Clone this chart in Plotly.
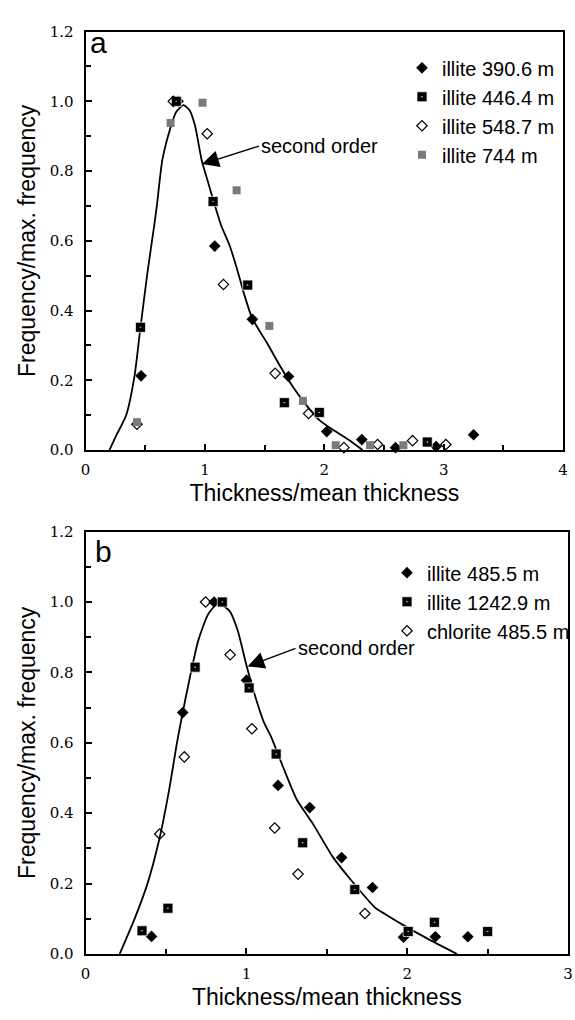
import plotly.graph_objects as go

# ---------------- Panel a data ----------------
curve_a_x = [0.20, 0.26, 0.34, 0.41, 0.457, 0.52, 0.575, 0.597, 0.643, 0.712, 0.76, 0.82, 0.87, 0.917,
             0.972, 1.02, 1.068, 1.136, 1.205, 1.274, 1.328, 1.397, 1.52, 1.629, 1.739, 1.849, 1.958,
             2.095, 2.20, 2.32]
curve_a_y = [0.0, 0.044, 0.10, 0.213, 0.344, 0.513, 0.644, 0.70, 0.832, 0.925, 0.97, 0.989, 0.975, 0.93,
             0.832, 0.775, 0.719, 0.644, 0.588, 0.513, 0.447, 0.377, 0.307, 0.241, 0.18, 0.129, 0.086,
             0.053, 0.03, 0.0]

a390_x = [0.465, 0.775, 1.082, 1.397, 1.70, 2.02, 2.314, 2.596, 2.936, 3.25]
a390_y = [0.213, 1.0, 0.585, 0.375, 0.211, 0.053, 0.030, 0.007, 0.010, 0.044]

a446_x = [0.46, 0.76, 1.068, 1.358, 1.665, 1.958, 2.862]
a446_y = [0.352, 1.0, 0.713, 0.473, 0.136, 0.108, 0.023]

a548_x = [0.43, 0.735, 1.019, 1.155, 1.588, 1.868, 2.164, 2.446, 2.739, 3.018]
a548_y = [0.074, 1.0, 0.907, 0.475, 0.22, 0.105, 0.007, 0.016, 0.027, 0.016]

a744_x = [0.43, 0.712, 0.98, 1.265, 1.539, 1.821, 2.095, 2.383, 2.662]
a744_y = [0.08, 0.938, 0.996, 0.745, 0.356, 0.141, 0.014, 0.014, 0.014]

# ---------------- Panel b data ----------------
curve_b_x = [0.212, 0.304, 0.385, 0.457, 0.518, 0.569, 0.604, 0.65, 0.701, 0.763, 0.824, 0.895, 0.946,
             0.997, 1.048, 1.109, 1.15, 1.231, 1.313, 1.415, 1.537, 1.649, 1.802, 1.864, 1.965, 2.149, 2.31]
curve_b_y = [0.0, 0.099, 0.2, 0.323, 0.462, 0.602, 0.686, 0.789, 0.891, 0.966, 0.996, 0.975, 0.919,
             0.826, 0.742, 0.658, 0.621, 0.528, 0.439, 0.369, 0.276, 0.211, 0.131, 0.113, 0.085, 0.038, 0.0]

b485_x = [0.41, 0.604, 0.799, 1.001, 1.197, 1.394, 1.592, 1.784, 1.977, 2.175, 2.377]
b485_y = [0.05, 0.686, 1.0, 0.778, 0.479, 0.416, 0.274, 0.189, 0.048, 0.049, 0.049]

b1242_x = [0.351, 0.512, 0.681, 0.85, 1.017, 1.185, 1.35, 1.674, 2.006, 2.169, 2.5]
b1242_y = [0.066, 0.13, 0.815, 1.0, 0.756, 0.568, 0.316, 0.183, 0.064, 0.09, 0.064]

bchl_x = [0.461, 0.614, 0.746, 0.899, 1.034, 1.176, 1.321, 1.737]
bchl_y = [0.341, 0.56, 1.0, 0.85, 0.64, 0.358, 0.227, 0.115]

names_a = ["illite 390.6 m", "illite 446.4 m", "illite 548.7 m", "illite 744 m"]
names_b = ["illite 485.5 m", "illite 1242.9 m", "chlorite 485.5 m"]

W, H = 575, 1020
SANS = "Liberation Sans, Arial, Helvetica, sans-serif"
SERIF = "DejaVu Serif, serif"

filled_diamond = dict(symbol="diamond", size=9, color="black", line=dict(width=0))
dot_square = dict(symbol="square-dot", size=10, color="black", line=dict(color="white", width=0.7))
open_diamond = dict(symbol="diamond-open", size=8, color="black", line=dict(width=1.2, color="black"))
gray_square = dict(symbol="square", size=8, color="#7a7a7a", line=dict(width=0))

fig = go.Figure()

fig.add_trace(go.Scatter(x=curve_a_x, y=curve_a_y, mode="lines", line=dict(color="black", width=1.8, shape="spline", smoothing=0.6),
                         showlegend=False, xaxis="x", yaxis="y", hoverinfo="skip"))
for xs, ys, nm, mk in [(a390_x, a390_y, names_a[0], filled_diamond), (a446_x, a446_y, names_a[1], dot_square),
                       (a548_x, a548_y, names_a[2], open_diamond), (a744_x, a744_y, names_a[3], gray_square)]:
    fig.add_trace(go.Scatter(x=xs, y=ys, mode="markers", name=nm, marker=mk, cliponaxis=False,
                             xaxis="x", yaxis="y", legend="legend"))

fig.add_trace(go.Scatter(x=curve_b_x, y=curve_b_y, mode="lines", line=dict(color="black", width=1.8, shape="spline", smoothing=0.6),
                         showlegend=False, xaxis="x2", yaxis="y2", hoverinfo="skip"))
for xs, ys, nm, mk in [(b485_x, b485_y, names_b[0], filled_diamond), (b1242_x, b1242_y, names_b[1], dot_square),
                       (bchl_x, bchl_y, names_b[2], open_diamond)]:
    fig.add_trace(go.Scatter(x=xs, y=ys, mode="markers", name=nm, marker=mk, cliponaxis=False,
                             xaxis="x2", yaxis="y2", legend="legend2"))

def xax(domain, rng, anchor):
    return dict(domain=domain, range=rng, anchor=anchor, showgrid=False, zeroline=False,
                showline=True, linecolor="black", linewidth=2, mirror=True,
                ticks="inside", ticklen=6, tickwidth=1.5, tickcolor="black", dtick=1, tick0=0,
                minor=dict(dtick=0.5, ticks="inside", ticklen=5, tickwidth=1.5, tickcolor="black"),
                tickfont=dict(family=SERIF, size=15, color="black"), ticklabelstandoff=5,
                title=dict(text="Thickness/mean thickness", font=dict(family=SANS, size=23, color="black"), standoff=7))

def yax(domain, anchor):
    return dict(domain=domain, range=[0, 1.2], anchor=anchor, showgrid=False, zeroline=False,
                showline=True, linecolor="black", linewidth=2, mirror=True,
                ticks="inside", ticklen=6, tickwidth=1.5, tickcolor="black", dtick=0.2, tick0=0,
                tickformat=".1f",
                minor=dict(dtick=0.1, ticks="inside", ticklen=5, tickwidth=1.5, tickcolor="black"),
                tickfont=dict(family=SERIF, size=15, color="black"), ticklabelstandoff=7,
                title=dict(text="Frequency/max. frequency", font=dict(family=SANS, size=23, color="black"), standoff=8))

ya = [1 - 449 / H, 1 - 23 / H]
yb = [1 - 962 / H, 1 - 532 / H]

fig.update_layout(
    width=W, height=H, margin=dict(l=0, r=0, t=0, b=0),
    paper_bgcolor="white", plot_bgcolor="white",
    xaxis=xax([82 / W, 568 / W], [0, 4], "y"),
    yaxis=yax(ya, "x"),
    xaxis2=xax([82 / W, 573 / W], [0, 3], "y2"),
    yaxis2=yax(yb, "x2"),
    legend=dict(x=404 / W, y=1 - 40 / H, xanchor="left", yanchor="top", bgcolor="rgba(0,0,0,0)",
                font=dict(family=SANS, size=20, color="black"), tracegroupgap=0),
    legend2=dict(x=389 / W, y=1 - 554 / H, xanchor="left", yanchor="top", bgcolor="rgba(0,0,0,0)",
                 font=dict(family=SANS, size=20, color="black"), tracegroupgap=0),
    annotations=[
        dict(text="a", xref="paper", yref="paper", x=84 / W, y=1 - 34 / H, xanchor="left", yanchor="middle",
             showarrow=False, font=dict(family=SANS, size=30, color="black")),
        dict(text="b", xref="paper", yref="paper", x=90 / W, y=1 - 552 / H, xanchor="left", yanchor="middle",
             showarrow=False, font=dict(family=SANS, size=30, color="black")),
        dict(text="second order", xref="x", yref="y", x=0.975, y=0.82, ax=57, ay=-18, xanchor="left",
             showarrow=True, arrowhead=2, arrowsize=2.6, arrowwidth=1.3, arrowcolor="black",
             font=dict(family=SANS, size=20, color="black")),
        dict(text="second order", xref="x2", yref="y2", x=1.007, y=0.817, ax=48, ay=-18, xanchor="left",
             showarrow=True, arrowhead=2, arrowsize=2.6, arrowwidth=1.3, arrowcolor="black",
             font=dict(family=SANS, size=20, color="black")),
    ],
)

fig.write_html("out.html")
